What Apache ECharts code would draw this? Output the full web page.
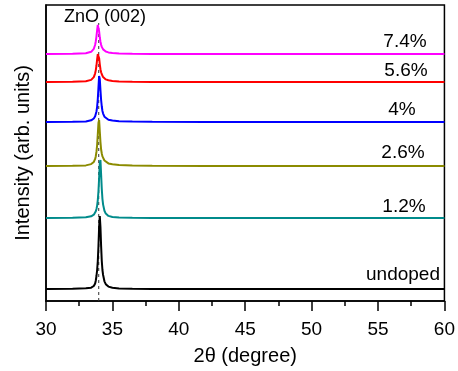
<!DOCTYPE html>
<html>
<head>
<meta charset="utf-8">
<script src="https://cdn.jsdelivr.net/npm/echarts@6/dist/echarts.min.js"></script>
<style>
  html, body { margin: 0; padding: 0; background: #fff; }
  #chart { width: 458px; height: 371px; }
</style>
</head>
<body>
<div id="chart"></div>
<script>
// 2theta grid (degree), finer around the ZnO (002) reflection
const twoTheta = [30, 32, 33, 33.4, 33.6, 33.7, 33.75, 33.8, 33.85, 33.9, 33.95, 34.0, 34.05, 34.1,
  34.15, 34.2, 34.25, 34.3, 34.4, 34.5, 34.7, 35, 35.5, 36.5, 38, 42, 50, 60]

const sampleNames = ['undoped', '1.2%', '2.6%', '4%', '5.6%', '7.4%']
const sampleColors = ['#000000', '#008b8b', '#8b8b00', '#0000ff', '#ff0000', '#ff00ff']
// vertical offsets used to stack the patterns
const offsets = [12, 83, 135, 179, 219, 247]

const undoped = [0, 0.2, 0.8, 1.3, 3, 5.5, 8.5, 13, 19, 28, 43, 62, 73, 62, 43, 28, 19, 14, 7.7, 4.8, 2.4, 1.2, 0.5, 0.2, 0.1, 0, 0, 0]
const zn12 = [0, 0.2, 0.7, 1.7, 3.3, 5.2, 6.8, 9, 12.4, 18, 26.7, 40, 55, 58, 43.5, 29, 19, 13.4, 7.2, 4.4, 2.1, 1, 0.4, 0.2, 0.1, 0, 0, 0]
const zn26 = [0, 0.2, 0.6, 1.9, 4.1, 7.1, 9.8, 14.3, 21, 31.7, 43, 46, 34.5, 24, 16.5, 12.5, 9.6, 7.7, 5.5, 4.1, 2.6, 1.8, 1, 0.5, 0.2, 0.1, 0, 0]
const zn40 = [0, 0.2, 0.6, 1.7, 3.5, 5.7, 7.6, 10.6, 15.2, 23, 34.5, 46, 43, 32, 22, 15.5, 11, 8.4, 5.3, 3.8, 2.3, 1.4, 0.8, 0.4, 0.2, 0.1, 0, 0]
const zn56 = [0, 0.2, 0.7, 2.1, 4.9, 8.7, 11.9, 16.5, 22.6, 28, 29, 23.8, 17.7, 12.8, 9.8, 7.7, 6, 4.9, 3.5, 2.6, 1.7, 1.1, 0.6, 0.3, 0.1, 0, 0, 0]
const zn74 = [0, 0.2, 0.7, 2.2, 5.2, 9.3, 12.8, 17.7, 23.8, 29, 27.8, 22.6, 16.5, 12.3, 9.3, 7.1, 5.7, 4.6, 3.3, 2.5, 1.6, 1, 0.6, 0.3, 0.1, 0, 0, 0]
const patterns = [undoped, zn12, zn26, zn40, zn56, zn74]

// reference position of the (002) peak
const refPeak = 33.97
const refLineTop = 278

const xTicks = [30, 35, 40, 45, 50, 55, 60]

const chart = echarts.init(document.getElementById('chart'))

const series = patterns.map((vals, i) => ({
    name: sampleNames[i],
    type: 'line',
    showSymbol: false,
    lineStyle: { color: sampleColors[i], width: 2 },
    itemStyle: { color: sampleColors[i] },
    data: vals.map((v, k) => [twoTheta[k], v + offsets[i]])
}))

// dashed reference line
series.unshift({
    name: 'ref',
    type: 'line',
    showSymbol: false,
    lineStyle: { color: '#333', width: 1, type: [3, 3] },
    data: [[refPeak, 0], [refPeak, refLineTop]]
})

const labelPos = [[403, 275], [404, 207], [403, 153], [402, 110], [406, 71], [405, 42]]
const labelText = sampleNames.map((name, i) => ({
    type: 'text',
    x: labelPos[i][0],
    y: labelPos[i][1],
    style: {
        text: name,
        font: '19px "Liberation Sans", Arial, sans-serif',
        fill: '#000',
        align: 'center',
        verticalAlign: 'middle'
    }
}))
labelText.push({
    type: 'text',
    x: 105,
    y: 17,
    style: {
        text: 'ZnO (002)',
        font: '18px "Liberation Sans", Arial, sans-serif',
        fill: '#000',
        align: 'center',
        verticalAlign: 'middle'
    }
})

const option = {
    animation: false,
    grid: {
        left: 46,
        right: 9,
        top: 5,
        bottom: 70,
        show: true,
        borderColor: '#000',
        borderWidth: 1.5
    },
    xAxis: {
        type: 'value',
        min: 30,
        max: 60,
        interval: 5,
        name: '2θ (degree)',
        nameLocation: 'middle',
        nameGap: 45,
        nameTextStyle: { fontFamily: 'Liberation Sans', fontSize: 20, color: '#000' },
        axisLine: { lineStyle: { color: '#000', width: 1.5 } },
        axisTick: { length: 10, lineStyle: { color: '#000', width: 1.5 } },
        minorTick: { show: true, splitNumber: 2, length: 5, lineStyle: { color: '#000', width: 1.5 } },
        splitLine: { show: false },
        axisLabel: {
            fontFamily: 'Liberation Sans',
            fontSize: 19,
            color: '#000',
            margin: 19,
            formatter: v => xTicks.includes(v) ? String(v) : ''
        }
    },
    yAxis: {
        type: 'value',
        min: 0,
        max: 296,
        name: 'Intensity (arb. units)',
        nameLocation: 'middle',
        nameGap: 13,
        nameTextStyle: { fontFamily: 'Liberation Sans', fontSize: 20, color: '#000' },
        axisLine: { show: true, lineStyle: { color: '#000', width: 1.5 } },
        axisTick: { show: false },
        axisLabel: { show: false },
        splitLine: { show: false }
    },
    graphic: labelText,
    series: series
}

chart.setOption(option)
</script>
</body>
</html>
